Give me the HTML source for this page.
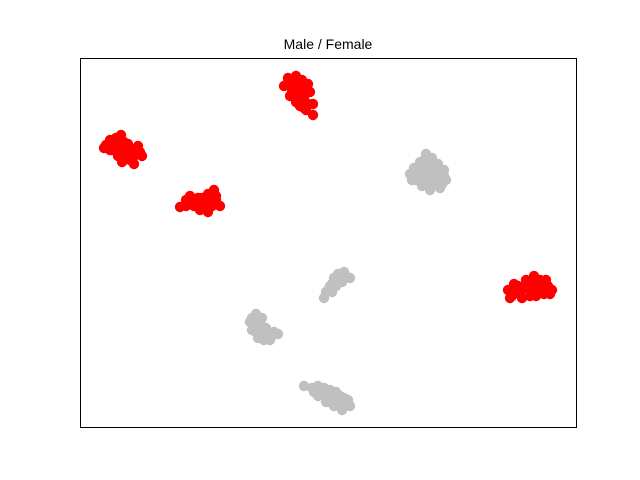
<!DOCTYPE html>
<html><head><meta charset="utf-8"><style>
html,body{margin:0;padding:0;background:#fff}
svg{display:block;font-family:"Liberation Sans","DejaVu Sans",sans-serif}
</style></head><body>
<svg id="chart" width="640" height="480">
<rect x="0" y="0" width="640" height="480" fill="#fff"/>
<text x="328" y="49" font-size="14" text-anchor="middle" fill="#000">Male / Female</text>
<g id="marks"></g>
<rect x="80.5" y="58.5" width="496" height="369" fill="none" stroke="#000" stroke-width="1"/>
</svg>
<script>
const redX = [288,296,302,284,292,300,308,310,296,304,290,300,308,313,306,313,298,294,298,292,302,306,296,304,288,
104,110,116,121,112,120,126,132,138,142,130,122,134,106,118,128,140,114,124,128,116,134,110,124,
180,186,190,196,202,208,214,216,220,212,208,204,194,188,216,200,198,206,192,210,200,186,
508,510,514,520,526,530,534,540,546,552,544,536,522,512,518,548,530,540,525,535,545,530,515,540,550,520];
const redY = [78,76,80,86,86,88,84,92,96,98,96,106,104,104,110,115,90,82,82,92,94,90,102,108,82,
148,140,138,135,150,146,152,150,146,156,160,162,164,145,156,144,152,144,150,156,150,156,150,142,
207,200,196,202,198,194,190,196,206,206,212,204,206,204,200,206,198,200,202,200,210,206,
290,298,284,292,280,290,276,284,280,290,294,296,298,296,286,286,284,290,288,286,288,296,292,280,294,294];
const grayX = [410,414,420,426,432,438,444,446,440,430,422,416,428,436,412,442,424,420,430,434,426,418,432,440,424,436,428,444,
324,326,330,334,338,344,350,342,336,332,340,346,336,328,332,
250,256,258,252,258,264,268,274,278,262,254,270,262,266,260,256,272,252,
304,312,318,324,330,336,340,348,350,342,334,326,318,338,346,314,320,328,334,342,336,344,322,330];
const grayY = [174,168,162,154,158,164,170,180,188,190,186,180,176,178,180,184,170,172,168,184,182,176,162,176,160,170,186,176,
298,292,286,278,274,272,278,282,286,292,278,276,282,290,284,
322,314,320,330,338,340,332,332,334,326,326,340,318,328,334,332,336,318,
386,388,386,388,390,392,396,400,406,410,406,402,396,402,404,392,392,396,398,404,396,398,390,402];
// axis functions (data space equals pixel-like units inside the frame)
const X0=80, Y0=58;
function sx(v){return X0+(v-X0);}
function sy(v){return Y0+(v-Y0);}
const g=document.getElementById('marks');
const NS='http://www.w3.org/2000/svg';
function draw(xs,ys,color,name){
  for(let i=0;i<xs.length;i++){
    const c=document.createElementNS(NS,'circle');
    c.setAttribute('cx',sx(xs[i]));
    c.setAttribute('cy',sy(ys[i]));
    c.setAttribute('r',5.2);
    c.setAttribute('fill',color);
    
    
    g.appendChild(c);
  }
}
draw(grayX,grayY,'#c0c0c0','gray-point');
draw(redX,redY,'#ff0000','red-point');
</script>
</body></html>
